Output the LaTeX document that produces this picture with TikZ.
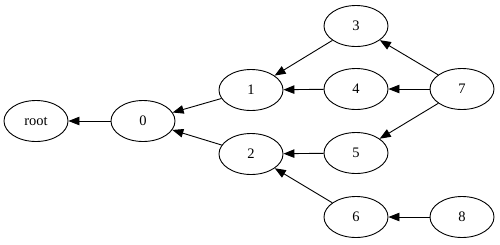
\documentclass[tikz,border=0pt]{standalone}
\usepackage{fontspec}
\setmainfont{Liberation Serif}
\usetikzlibrary{arrows.meta,shapes.geometric}
\begin{document}
\begin{tikzpicture}[x=1pt,y=-1pt,
  nd/.style={draw,ellipse,line width=0.9pt,minimum width=64pt,minimum height=41pt,inner sep=0pt,font=\fontsize{14.5}{16}\selectfont},
  ed/.style={draw,line width=0.9pt,-{Triangle[length=11pt,width=8.5pt]}}]
\useasboundingbox (0,0) rectangle (500,244);
\node[nd] (root) at (36,121) {root};
\node[nd] (n0) at (143,121) {0};
\node[nd] (n1) at (251,90) {1};
\node[nd] (n2) at (251,154) {2};
\node[nd] (n3) at (356,26) {3};
\node[nd] (n4) at (356,89) {4};
\node[nd] (n5) at (356,153) {5};
\node[nd] (n6) at (356,217) {6};
\node[nd] (n7) at (462,89) {7};
\node[nd] (n8) at (462,217) {8};
\draw[ed] (n0) -- (root);
\draw[ed] (n1) -- (n0);
\draw[ed] (n2) -- (n0);
\draw[ed] (n3) -- (n1);
\draw[ed] (n4) -- (n1);
\draw[ed] (n5) -- (n2);
\draw[ed] (n6) -- (n2);
\draw[ed] (n7) -- (n3);
\draw[ed] (n7) -- (n4);
\draw[ed] (n7) -- (n5);
\draw[ed] (n8) -- (n6);
\end{tikzpicture}
\end{document}
